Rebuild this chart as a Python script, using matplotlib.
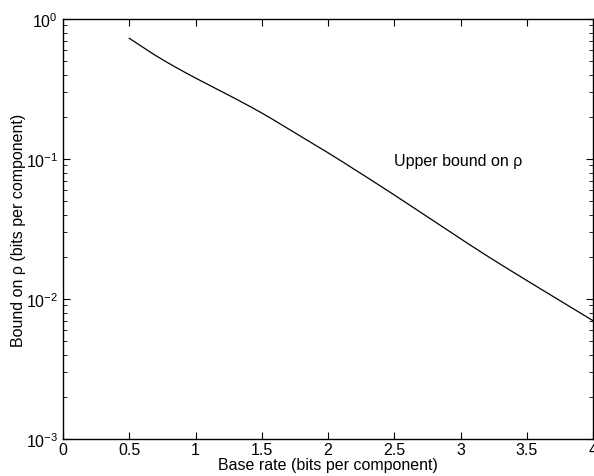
import matplotlib
matplotlib.use("Agg")
import matplotlib.pyplot as plt
import numpy as np

plt.rcParams['font.family'] = ['Liberation Sans', 'DejaVu Sans']
plt.rcParams['mathtext.fontset'] = 'custom'
plt.rcParams['mathtext.rm'] = 'Liberation Sans'

rate = [0.5, 0.681, 0.934, 1.185, 1.512, 1.764, 2.015, 2.266, 2.392, 3.198, 4.0]
bound = [0.728, 0.562, 0.409, 0.308, 0.210, 0.151, 0.1086, 0.0769, 0.0645, 0.0204, 0.0070]
xticks = [0, 0.5, 1, 1.5, 2, 2.5, 3, 3.5, 4]
xticklabels = ['0', '0.5', '1', '1.5', '2', '2.5', '3', '3.5', '4']


def smooth(xp, yp, n=400):
    # cubic Hermite through the read points (log space)
    xp = np.asarray(xp, float)
    yp = np.log10(np.asarray(yp, float))
    m = np.gradient(yp, xp)
    xs = np.linspace(xp[0], xp[-1], n)
    idx = np.clip(np.searchsorted(xp, xs) - 1, 0, len(xp) - 2)
    h = xp[idx + 1] - xp[idx]
    t = (xs - xp[idx]) / h
    h00 = 2 * t**3 - 3 * t**2 + 1
    h10 = t**3 - 2 * t**2 + t
    h01 = -2 * t**3 + 3 * t**2
    h11 = t**3 - t**2
    ys = h00 * yp[idx] + h10 * h * m[idx] + h01 * yp[idx + 1] + h11 * h * m[idx + 1]
    return xs, 10 ** ys


fig = plt.figure(figsize=(5.94, 4.77), dpi=100)
ax = fig.add_axes([63/594, 1-440/477, (593-63)/594, (440-20)/477])

xs, ys = smooth(rate, bound)
ax.plot(xs, ys, color='black', linewidth=0.9)

ax.set_yscale('log')
ax.set_xlim(0, 4)
ax.set_ylim(1e-3, 1)
ax.set_xticks(xticks)
ax.set_xticklabels(xticklabels)
ax.tick_params(which='both', direction='in', top=True, right=True, labelsize=11.5)
ax.tick_params(axis='x', pad=2)
ax.tick_params(which='major', length=5)
ax.tick_params(which='minor', length=3)
for s in ax.spines.values():
    s.set_linewidth(1.0)

ax.text(2.5, 0.097, 'Upper bound on ρ', fontsize=11.5, va='center', ha='left')
ax.set_xlabel('Base rate (bits per component)', fontsize=11.5, labelpad=0)
ax.set_ylabel('Bound on ρ (bits per component)', fontsize=11.5, labelpad=0)

fig.savefig('out.png', dpi=100)
